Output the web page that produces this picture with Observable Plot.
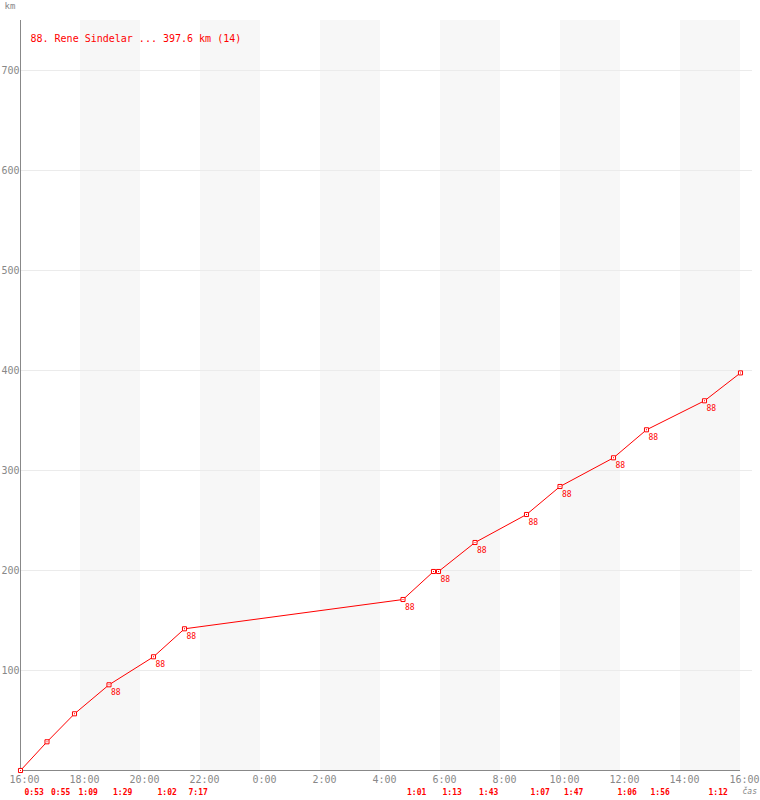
<!DOCTYPE html>
<html>
<head>
<meta charset="utf-8">
<script src="https://cdn.jsdelivr.net/npm/d3@7"></script>
<script src="https://cdn.jsdelivr.net/npm/@observablehq/plot@0.6"></script>
<style>
  html, body { margin: 0; padding: 0; background: #fff; }
  #chart svg { display: block; }
</style>
</head>
<body>
<div id="chart"></div>
<script>
// ---- data ----
const title = "88. Rene Sindelar ... 397.6 km (14)";
const times = ["16:00","16:53","17:48","18:57","20:26","21:28","04:45","05:46","05:56","07:09","08:52","09:59","11:46","12:52","14:48","16:00"];
const km    = [0, 28.7, 56.7, 85.7, 113.7, 141.7, 171, 199, 199, 228, 256, 284, 312.7, 340.7, 369.7, 397.6];
const riderLabels = ["","","","88","88","88","88","","88","88","88","88","88","88","88",""];
const lapDurations = ["0:53","0:55","1:09","1:29","1:02","7:17","1:01","","1:13","1:43","1:07","1:47","1:06","1:56","1:12",""];
const xTickLabels = ["16:00","18:00","20:00","22:00","0:00","2:00","4:00","6:00","8:00","10:00","12:00","14:00","16:00"];
const yTicks = [100, 200, 300, 400, 500, 600, 700];
const bandStarts = ["18:00","22:00","2:00","6:00","10:00","14:00"];

// convert clock strings to hours since 16:00 of the race start
function clockToOffset(list) {
  let prev = -1, day = 0;
  return list.map(s => {
    const [h, m] = s.split(":").map(Number);
    let v = ((h - 16 + 24) % 24) + m / 60 + day * 24;
    if (v <= prev && prev >= 0) { day += 1; v += 24; }
    prev = v;
    return v;
  });
}
const xs = clockToOffset(times);
const points = xs.map((x, i) => ({x, km: km[i], rider: riderLabels[i], lap: lapDurations[i]}));
const ticks = clockToOffset(xTickLabels).map((x, i) => ({x, label: xTickLabels[i]}));
const bands = clockToOffset(bandStarts).map(x => ({x1: x, x2: x + 2}));

const mono = "DejaVu Sans Mono, monospace";
const red = "#ff0000";
const gray = "#888888";

const chart = Plot.plot({
  width: 760,
  height: 800,
  marginLeft: 20,
  marginRight: 20,
  marginTop: 20,
  marginBottom: 30,
  style: {fontFamily: mono, background: "#fff"},
  x: {domain: [0, 24], axis: null},
  y: {domain: [0, 750], axis: null},
  marks: [
    Plot.rect(bands, {x1: "x1", x2: "x2", y1: 0, y2: 750, fill: "#f7f7f7"}),
    Plot.ruleY(yTicks, {x1: 0, x2: 24.4, stroke: "#ebebeb", strokeWidth: 1}),
    Plot.ruleX([0], {y1: 0, y2: 750, stroke: gray, strokeWidth: 1}),
    Plot.ruleY([0], {x1: 0, x2: 24, stroke: gray, strokeWidth: 1}),
    // y tick labels
    Plot.text(yTicks, {x: 0, y: d => d, text: d => String(d), textAnchor: "end", dx: -1, fill: gray, fontSize: 10}),
    // x tick labels
    Plot.text(ticks, {x: "x", y: 0, text: "label", dx: 4, dy: 9, fill: gray, fontSize: 10}),
    // lap durations below the axis
    Plot.text(points.filter(d => d.lap), {x: "x", y: 0, text: "lap", dx: 4, dy: 22, textAnchor: "start", fill: red, fontSize: 8, fontWeight: "bold"}),
    // the line
    Plot.line(points, {x: "x", y: "km", stroke: red, strokeWidth: 1}),
    Plot.dot(points, {x: "x", y: "km", symbol: "square", r: 2.3, stroke: red, strokeWidth: 1, fill: "white"}),
    Plot.dot(points, {x: "x", y: "km", symbol: "square", r: 0.55, fill: red, stroke: "none"}),
    // rider number labels
    Plot.text(points.filter(d => d.rider), {x: "x", y: "km", text: "rider", dx: 2, dy: 8, textAnchor: "start", fill: red, fontSize: 8}),
    // title
    Plot.text([title], {frameAnchor: "top-left", dx: 10, dy: 18, lineAnchor: "middle", textAnchor: "start", fill: red, fontSize: 10}),
    // axis unit labels
    Plot.text(["km"], {frameAnchor: "top-left", dx: -16, dy: -14, lineAnchor: "middle", textAnchor: "start", fill: gray, fontSize: 9}),
    Plot.text(["čas"], {frameAnchor: "bottom-right", dx: 2, dy: 21, lineAnchor: "middle", textAnchor: "start", fill: gray, fontSize: 8, fontStyle: "italic"})
  ]
});
document.getElementById("chart").appendChild(chart);
</script>
</body>
</html>
